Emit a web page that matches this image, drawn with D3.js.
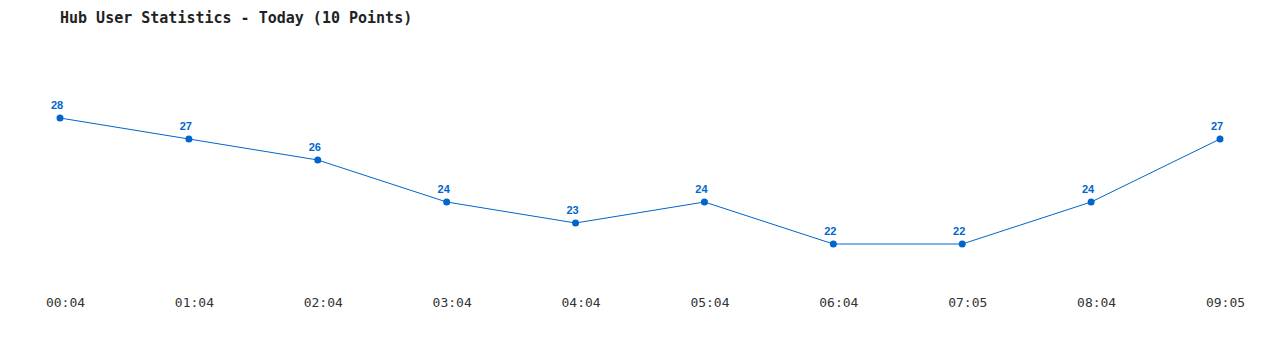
<!DOCTYPE html>
<html>
<head>
<meta charset="utf-8">
<script src="https://cdn.jsdelivr.net/npm/d3@7"></script>
<style>
  body { margin: 0; background: #fff; }
  svg { display: block; }
</style>
</head>
<body>
<svg id="chart"></svg>
<script>
const times = ['00:04', '01:04', '02:04', '03:04', '04:04', '05:04', '06:04', '07:05', '08:04', '09:05'];
const users = [28, 27, 26, 24, 23, 24, 22, 22, 24, 27];
const chartTitle = 'Hub User Statistics - Today (10 Points)';

const width = 1280;
const height = 350;
const lineColor = '#0066cc';

const svg = d3.select('#chart')
  .attr('width', width)
  .attr('height', height);

//scales
const x = d3.scalePoint()
  .domain(times)
  .range([60, 1220]);

const y = d3.scaleLinear()
  .domain([20, 30])
  .range([286, 76]);

//title
svg.append('text')
  .attr('x', 60)
  .attr('y', 23)
  .style('font-family', 'DejaVu Sans Mono')
  .style('font-size', '15px')
  .style('font-weight', 'bold')
  .attr('fill', '#222')
  .text(chartTitle);

//x axis labels, no line or ticks
const xAxis = svg.append('g')
  .attr('transform', 'translate(5,298)')
  .call(d3.axisBottom(x).tickSize(0).tickPadding(0));
xAxis.select('.domain').remove();
xAxis.selectAll('text')
  .attr('dy', '0.71em')
  .style('font-family', 'DejaVu Sans Mono')
  .style('font-size', '13px')
  .attr('fill', '#333');

//line
const line = d3.line()
  .x((d, i) => x(times[i]))
  .y(d => y(d));

svg.append('path')
  .datum(users)
  .attr('d', line)
  .attr('fill', 'none')
  .attr('stroke', lineColor)
  .attr('stroke-width', 1);

//dots
svg.append('g').selectAll('circle')
  .data(users)
  .enter().append('circle')
    .attr('cx', (d, i) => x(times[i]))
    .attr('cy', d => y(d))
    .attr('r', 3.5)
    .attr('fill', lineColor);

//value labels
svg.append('g').selectAll('text')
  .data(users)
  .enter().append('text')
    .attr('x', (d, i) => x(times[i]) - 3)
    .attr('y', d => y(d) - 9)
    .attr('text-anchor', 'middle')
    .style('font-family', 'Liberation Sans')
    .style('font-size', '11px')
    .style('font-weight', 'bold')
    .attr('fill', lineColor)
    .text(d => d);
</script>
</body>
</html>
